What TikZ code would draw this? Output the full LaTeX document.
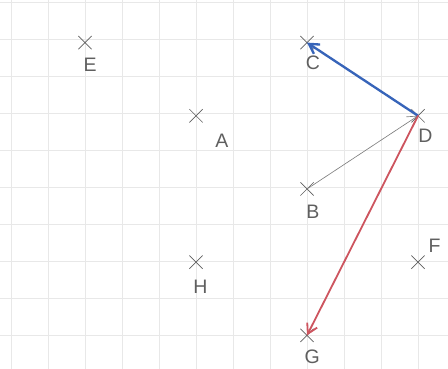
\documentclass[tikz,border=0pt]{standalone}
\usepackage{fontspec}
\setmainfont{Liberation Sans}
\usetikzlibrary{shapes.misc,arrows.meta}
\definecolor{vecblue}{RGB}{55,100,185}
\definecolor{vecred}{RGB}{205,85,95}
\definecolor{pencil}{RGB}{95,95,95}
\begin{document}
\begin{tikzpicture}[
    x=1cm, y=.989cm, >={Straight Barb[length=2.6mm,width=3mm]},
    pt/.style={cross out,draw=pencil,line width=.5pt,minimum size=.34cm,inner sep=0pt},
    lbl/.style={text=pencil,font=\fontsize{15}{18}\selectfont,inner sep=0pt}]
    \useasboundingbox (-.297,.082) rectangle (11.81,10.164);
    \clip (-.297,.082) rectangle (11.81,10.164);
    \draw[gray!18,line width=.4pt] (-1,-1) grid (13,11);
    % points
    \node[pt] (E) at (2,9) {};
    \node[pt] (C) at (8,9) {};
    \node[pt] (A) at (5,7) {};
    \node[pt] (D) at (11,7) {};
    \node[pt] (B) at (8,5) {};
    \node[pt] (H) at (5,3) {};
    \node[pt] (F) at (11,3) {};
    \node[pt] (G) at (8,1) {};
    \node[lbl] (lE) at ([shift={(.14,-.6)}]E) {E};
    \node[lbl] (lC) at ([shift={(.16,-.56)}]C) {C};
    \node[lbl] (lA) at ([shift={(.7,-.68)}]A) {A};
    \node[lbl] (lD) at ([shift={(.2,-.55)}]D) {D};
    \node[lbl] (lB) at ([shift={(.16,-.62)}]B) {B};
    \node[lbl] (lH) at ([shift={(.12,-.66)}]H) {H};
    \node[lbl] (lF) at ([shift={(.45,.45)}]F) {F};
    \node[lbl] (lG) at ([shift={(.14,-.58)}]G) {G};
    % vectors
    \draw[->,pencil!80,line width=.5pt] (B.center) -- (D.center);
    \draw[->,vecblue,line width=1.8pt,line cap=round] (D.center) -- (C.center);
    \draw[->,vecred,line width=1.4pt,line cap=round] (D.center) -- (G.center);
\end{tikzpicture}
\end{document}
